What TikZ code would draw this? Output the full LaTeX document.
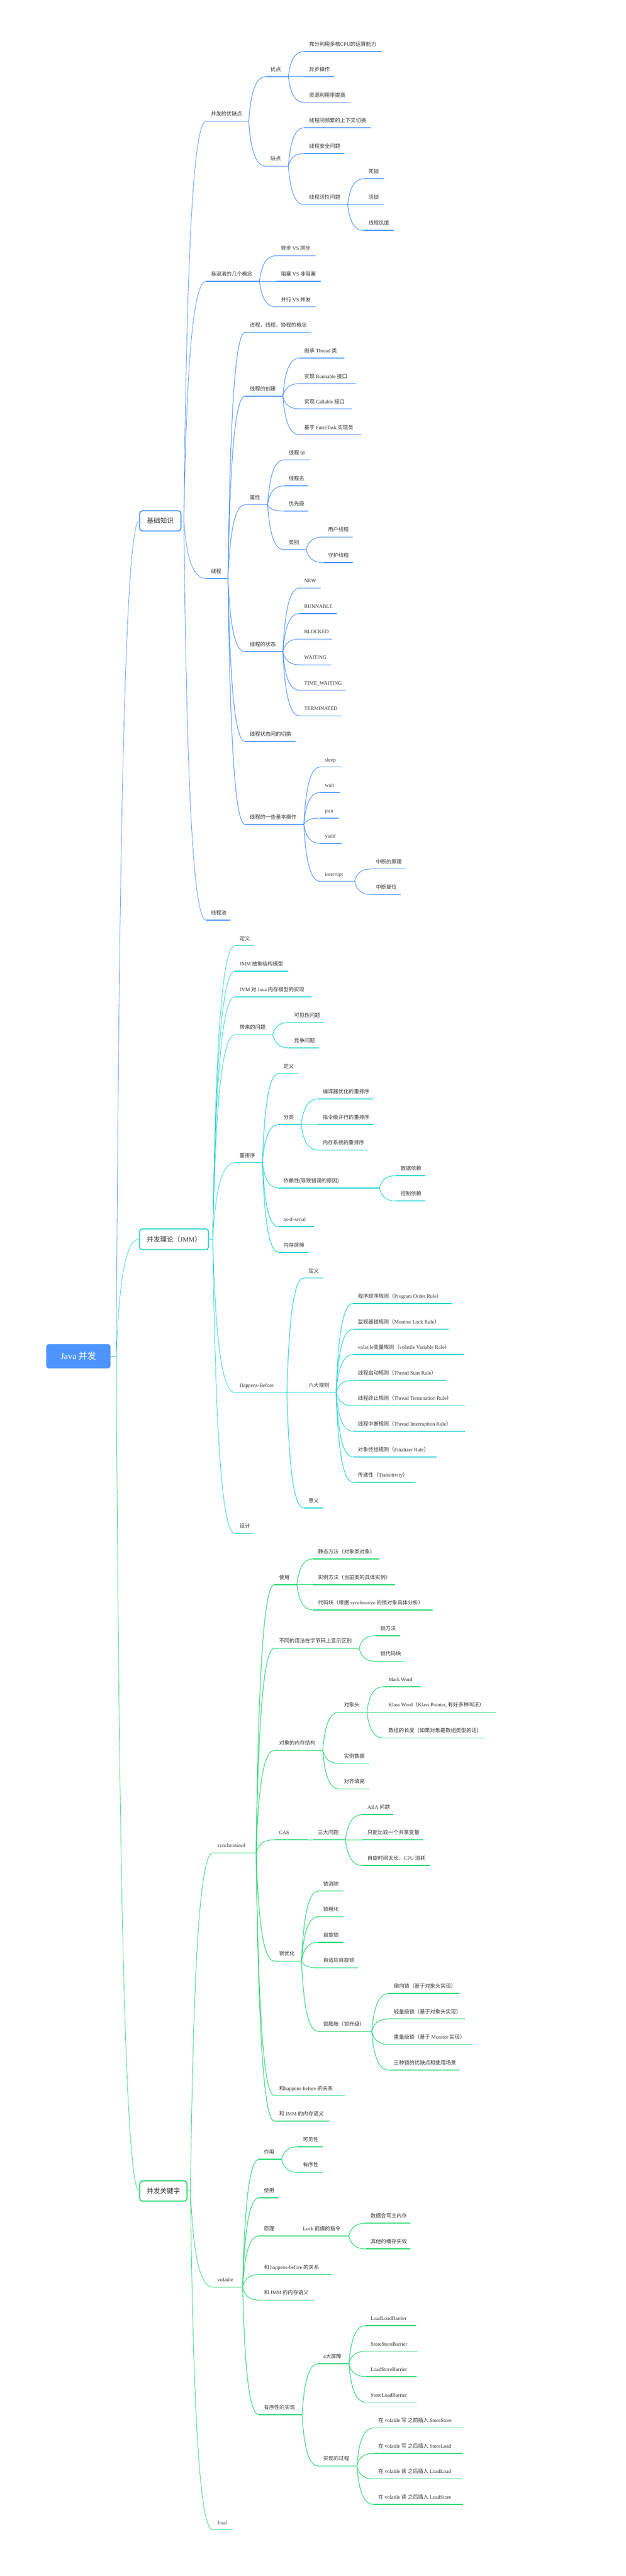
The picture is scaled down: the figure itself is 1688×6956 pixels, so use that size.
\documentclass[tikz,border=0pt]{standalone}
\usepackage{fontspec}
\setmainfont{Noto Sans CJK SC}
\newfontfamily\lfont{Liberation Serif}
\usetikzlibrary{calc}
\definecolor{cb}{RGB}{77,148,255}
\definecolor{cc}{RGB}{32,211,211}
\definecolor{cg}{RGB}{34,214,110}
\definecolor{tx}{RGB}{51,51,51}
\newcommand\lat[1]{{\lfont #1}}
\tikzset{
 conn/.style={to path={let \p1=(\tikztostart),\p2=(\tikztotarget) in .. controls ({\x1+0.1*(\x2-\x1)},{\y1+0.5*(\y2-\y1)}) and ({\x1+0.3*(\x2-\x1)},\y2) .. (\tikztotarget)}},
 topic/.style={inner xsep=13pt, inner ysep=0pt, outer sep=0pt, text height=11pt, text depth=14.7pt, font=\fontsize{14}{16}\selectfont, text=tx, anchor=south west},
 uline/.style={line width=2pt},
 link/.style={line width=1.5pt},
 lonelink/.style={line width=1.2pt},
 rootlink/.style={line width=1.1pt},
 lbox/.style={rounded corners=8pt, line width=2.8pt, fill=white, inner sep=0pt, font=\fontsize{18}{20}\selectfont, text=tx},
 rootbox/.style={rounded corners=8pt, fill=cb, inner sep=0pt, font=\fontsize{24}{26}\selectfont, text=white, minimum width=173.7pt, minimum height=65.5pt}
}
\newcommand\tp[6]{%
 \node[topic] (#1) at (#3,#4) {\makebox[\dimexpr #5pt-#3pt-26pt\relax][l]{#6}};
 \draw[uline,#2] (#1.south west) -- (#1.south east);}
\newcommand\lk[3]{\draw[link,#1] (#2.south east) to[conn] (#3.south west);}
\newcommand\lkj[3]{\draw[lonelink,#1] (#2) to[conn] (#3.south west);}
\begin{document}
\begin{tikzpicture}[x=1pt,y=-1pt]
\useasboundingbox (0,0) rectangle (1688,6956);
\fill[white] (0,0) rectangle (1688,6956);

% ================= blue: 基础知识 =================
\tp{a1}{cb}{556}{327.5}{671}{并发的优缺点}
\tp{a11}{cb}{717}{207}{778}{优点}
\tp{a111}{cb}{821}{139}{1029}{充分利用多核\lat{CPU}的运算能力}
\tp{a112}{cb}{821}{207}{902}{异步操作}
\tp{a113}{cb}{821}{276.5}{944}{资源利用率提高}
\tp{a12}{cb}{717}{448.6}{778}{缺点}
\tp{a121}{cb}{821}{345}{1000}{线程间频繁的上下文切换}
\tp{a122}{cb}{821}{414.6}{930}{线程安全问题}
\tp{a123}{cb}{821}{552.7}{938}{线程活性问题}
\tp{a1231}{cb}{981}{483}{1036}{死锁}
\tp{a1232}{cb}{981}{552.7}{1036}{活锁}
\tp{a1233}{cb}{981}{622}{1063}{线程饥饿}
\tp{a2}{cb}{556}{759.8}{700}{易混淆的几个概念}
\tp{a21}{cb}{745}{690.6}{851}{异步 \lat{VS} 同步}
\tp{a22}{cb}{745}{759.8}{865}{阻塞 \lat{VS} 非阻塞}
\tp{a23}{cb}{745}{828.6}{851}{并行 \lat{VS} 并发}
\tp{a3}{cb}{556}{1562}{615}{线程}
\tp{a31}{cb}{661}{897.9}{838.5}{进程，线程，协程的概念}
\tp{a32}{cb}{661}{1070}{763}{线程的创建}
\tp{a321}{cb}{808}{966.7}{929}{继承 \lat{Thread} 类}
\tp{a322}{cb}{808}{1036}{960}{实现 \lat{Runnable} 接口}
\tp{a323}{cb}{808}{1104}{949}{实现 \lat{Callable} 接口}
\tp{a324}{cb}{808}{1173.6}{975}{基于 \lat{FutreTask} 实现类}
\tp{a33}{cb}{661}{1363}{722}{属性}
\tp{a331}{cb}{766}{1242}{836}{线程 \lat{Id}}
\tp{a332}{cb}{766}{1312}{832}{线程名}
\tp{a333}{cb}{766}{1380}{832}{优先级}
\tp{a334}{cb}{766}{1484}{826}{类别}
\tp{a3341}{cb}{872}{1450}{952}{用户线程}
\tp{a3342}{cb}{872}{1519}{952}{守护线程}
\tp{a34}{cb}{661}{1759.7}{763}{线程的状态}
\tp{a341}{cb}{808}{1588}{865}{\lat{NEW}}
\tp{a342}{cb}{808}{1657}{908.6}{\lat{RUNNABLE}}
\tp{a343}{cb}{808}{1725.7}{896}{\lat{BLOCKED}}
\tp{a344}{cb}{808}{1795}{894}{\lat{WAITING}}
\tp{a345}{cb}{808}{1863.7}{934}{\lat{TIME\_WAITING}}
\tp{a346}{cb}{808}{1932.9}{922}{\lat{TERMINATED}}
\tp{a35}{cb}{661}{2001.7}{797}{线程状态间的切换}
\tp{a36}{cb}{661}{2226}{819.6}{线程的一些基本操作}
\tp{a361}{cb}{864}{2071}{923}{\lat{sleep}}
\tp{a362}{cb}{864}{2139.7}{916.6}{\lat{wait}}
\tp{a363}{cb}{864}{2209}{913.7}{\lat{join}}
\tp{a364}{cb}{864}{2277.4}{920.6}{\lat{yield}}
\tp{a365}{cb}{864}{2380}{956.8}{\lat{interrupt}}
\tp{a3651}{cb}{1001}{2346.6}{1094.6}{中断的原理}
\tp{a3652}{cb}{1001}{2415.4}{1081}{中断复位}
\tp{a4}{cb}{556}{2484.7}{621.5}{线程池}

\foreach \c in {a111,a112,a113} {\lk{cb}{a11}{\c}}
\foreach \c in {a121,a122,a123} {\lk{cb}{a12}{\c}}
\foreach \c in {a1231,a1232,a1233} {\lk{cb}{a123}{\c}}
\foreach \c in {a11,a12} {\lk{cb}{a1}{\c}}
\foreach \c in {a21,a22,a23} {\lk{cb}{a2}{\c}}
\foreach \c in {a31,a32,a33,a34,a35,a36} {\lk{cb}{a3}{\c}}
\foreach \c in {a321,a322,a323,a324} {\lk{cb}{a32}{\c}}
\foreach \c in {a331,a332,a333,a334} {\lk{cb}{a33}{\c}}
\foreach \c in {a3341,a3342} {\lk{cb}{a334}{\c}}
\foreach \c in {a341,a342,a343,a344,a345,a346} {\lk{cb}{a34}{\c}}
\foreach \c in {a361,a362,a363,a364,a365} {\lk{cb}{a36}{\c}}
\foreach \c in {a3651,a3652} {\lk{cb}{a365}{\c}}

% ================= cyan: 并发理论 =================
\tp{b1}{cc}{633.5}{2553.7}{686}{定义}
\tp{b2}{cc}{633.5}{2622.5}{778}{\lat{JMM} 抽象结构模型}
\tp{b3}{cc}{633.5}{2691.7}{840}{\lat{JVM} 对 \lat{Java} 内存模型的实现}
\tp{b4}{cc}{633.5}{2794}{736}{带来的问题}
\tp{b41}{cc}{780.6}{2761}{874.6}{可见性问题}
\tp{b42}{cc}{780.6}{2829.6}{861}{竞争问题}
\tp{b5}{cc}{633.5}{3139.5}{708}{重排序}
\tp{b51}{cc}{752}{2898.8}{805}{定义}
\tp{b52}{cc}{752}{3036.8}{812.6}{分类}
\tp{b521}{cc}{857.7}{2967.6}{1007.7}{编译器优化的重排序}
\tp{b522}{cc}{857.7}{3036.8}{1007.7}{指令级并行的重排序}
\tp{b523}{cc}{857.7}{3105.5}{993}{内存系统的重排序}
\tp{b53}{cc}{752}{3208}{1023.7}{依赖性(导致错误的原因)}
\tp{b531}{cc}{1068}{3174.7}{1147.7}{数据依赖}
\tp{b532}{cc}{1068}{3243}{1147.7}{控制依赖}
\tp{b54}{cc}{752}{3312.5}{847}{\lat{as-if-serial}}
\tp{b55}{cc}{752}{3381.7}{832.5}{内存屏障}
\tp{b6}{cc}{633.5}{3760}{774}{\lat{Happens-Before}}
\tp{b61}{cc}{819.5}{3451}{872}{定义}
\tp{b62}{cc}{819.5}{3760}{906.7}{八大规则}
\tp{b621}{cc}{952.6}{3519.6}{1218}{程序顺序规则（\lat{Program Order Rule}）}
\tp{b622}{cc}{952.6}{3589}{1211}{监视器锁规则（\lat{Monitor Lock Rule}）}
\tp{b623}{cc}{952.6}{3657.6}{1250.8}{\lat{volatile}变量规则（\lat{volatile Variable Rule}）}
\tp{b624}{cc}{952.6}{3727}{1205}{线程启动规则（\lat{Thread Start Rule}）}
\tp{b625}{cc}{952.6}{3795.8}{1254.6}{线程终止规则（\lat{Thread Termination Rule}）}
\tp{b626}{cc}{952.6}{3864.7}{1254.6}{线程中断规则（\lat{Thread Interruption Rule}）}
\tp{b627}{cc}{952.6}{3934}{1178.7}{对象终结规则（\lat{Finalizer Rule}）}
\tp{b628}{cc}{952.6}{4002.5}{1121}{传递性（\lat{Transitivity}）}
\tp{b63}{cc}{819.5}{4071.7}{872}{意义}
\tp{b7}{cc}{633.5}{4140.7}{685}{设计}

\foreach \c in {b41,b42} {\lk{cc}{b4}{\c}}
\foreach \c in {b51,b52,b53,b54,b55} {\lk{cc}{b5}{\c}}
\foreach \c in {b521,b522,b523} {\lk{cc}{b52}{\c}}
\foreach \c in {b531,b532} {\lk{cc}{b53}{\c}}
\foreach \c in {b61,b62,b63} {\lk{cc}{b6}{\c}}
\foreach \c in {b621,b622,b623,b624,b625,b626,b627,b628} {\lk{cc}{b62}{\c}}

% ================= green: 并发关键字 =================
\tp{c1}{cg}{574}{5003}{691}{\lat{synchronized}}
\tp{c11}{cg}{740}{4279}{800.9}{使用}
\tp{c111}{cg}{845}{4209.5}{1023.7}{静态方法（对象类对象）}
\tp{c112}{cg}{845}{4279}{1065}{实例方法（当前类的具体实例）}
\tp{c113}{cg}{845}{4347.4}{1167}{代码块（根据 \lat{synchronize} 的锁对象具体分析）}
\tp{c12}{cg}{740}{4451}{969}{不同的用法在字节码上显示区别}
\tp{c121}{cg}{1013}{4416.8}{1079}{锁方法}
\tp{c122}{cg}{1013}{4485.7}{1094}{锁代码块}
\tp{c13}{cg}{740}{4726.5}{870.7}{对象的内存结构}
\tp{c131}{cg}{915}{4623.5}{989.8}{对象头}
\tp{c1311}{cg}{1035}{4554.6}{1135}{\lat{Mark Word}}
\tp{c1312}{cg}{1035}{4623.5}{1339}{\lat{Klass Word}（\lat{Klass Pointer,} 有好多种叫法）}
\tp{c1313}{cg}{1035}{4692.9}{1310}{数组的长度（如果对象是数组类型的话）}
\tp{c132}{cg}{915}{4761.7}{995.5}{实例数据}
\tp{c133}{cg}{915}{4830.6}{995.5}{对齐填充}
\tp{c14}{cg}{740}{4968}{830}{\lat{CAS}}
\tp{c141}{cg}{844.5}{4968}{932}{三大问题}
\tp{c1411}{cg}{978.5}{4900}{1062}{\lat{ABA} 问题}
\tp{c1412}{cg}{978.5}{4968}{1141.8}{只能比较一个共享变量}
\tp{c1413}{cg}{978.5}{5037.6}{1160.6}{自旋时间太长，\lat{CPU} 消耗}
\tp{c15}{cg}{740}{5295.6}{813.4}{锁优化}
\tp{c151}{cg}{859}{5106.6}{926}{锁消除}
\tp{c152}{cg}{859}{5175.6}{926}{锁粗化}
\tp{c153}{cg}{859}{5244.6}{926}{自旋锁}
\tp{c154}{cg}{859}{5313.7}{967}{自适应自旋锁}
\tp{c155}{cg}{859}{5485.8}{1002.8}{锁膨胀（锁升级）}
\tp{c1551}{cg}{1049.5}{5382.7}{1240}{偏向锁（基于对象头实现）}
\tp{c1552}{cg}{1049.5}{5451.7}{1254.5}{轻量级锁（基于对象头实现）}
\tp{c1553}{cg}{1049.5}{5520.7}{1275}{重量级锁（基于 \lat{Monitor} 实现）}
\tp{c1554}{cg}{1049.5}{5589.8}{1240}{三种锁的优缺点和使用场景}
\tp{c16}{cg}{740}{5659}{931}{和\lat{happens-before} 的关系}
\tp{c17}{cg}{740}{5727.5}{889.3}{和 \lat{JMM} 的内存语义}
\tp{c2}{cg}{574}{6175.8}{654.6}{\lat{volatile}}
\tp{c21}{cg}{699}{5830.7}{759.6}{作用}
\tp{c211}{cg}{804}{5797}{870.5}{可见性}
\tp{c212}{cg}{804}{5866}{870.5}{有序性}
\tp{c22}{cg}{699}{5934.6}{751}{使用}
\tp{c23}{cg}{699}{6037.7}{790}{原理}
\tp{c231}{cg}{804}{6037.7}{941.3}{\lat{Lock} 前缀的指令}
\tp{c2311}{cg}{987}{6003.2}{1107.7}{数据会写主内存}
\tp{c2312}{cg}{987}{6072.7}{1107.7}{其他的缓存失效}
\tp{c24}{cg}{699}{6141.7}{895.3}{和 \lat{happens-before} 的关系}
\tp{c25}{cg}{699}{6210.7}{848.3}{和 \lat{JMM} 的内存语义}
\tp{c26}{cg}{699}{6520.7}{815}{有序性的实现}
\tp{c261}{cg}{859}{6382.6}{941.3}{\lat{4}大屏障}
\tp{c2611}{cg}{987}{6279.7}{1122}{\lat{LoadLoadBarrier}}
\tp{c2612}{cg}{987}{6349}{1126.5}{\lat{StoreStoreBarrier}}
\tp{c2613}{cg}{987}{6417.4}{1124}{\lat{LoadStoreBarrier}}
\tp{c2614}{cg}{987}{6486.7}{1124}{\lat{StoreLoadBarrier}}
\tp{c262}{cg}{859}{6658.7}{962.7}{实现的过程}
\tp{c2621}{cg}{1007.7}{6556}{1252}{在 \lat{volatile} 写 之前插入 \lat{StoreStore}}
\tp{c2622}{cg}{1007.7}{6624.7}{1249.4}{在 \lat{volatile} 写 之后插入 \lat{StoreLoad}}
\tp{c2623}{cg}{1007.7}{6693.6}{1246}{在 \lat{volatile} 读 之后插入 \lat{LoadLoad}}
\tp{c2624}{cg}{1007.7}{6762.4}{1249.4}{在 \lat{volatile} 读 之后插入 \lat{LoadStore}}
\tp{c3}{cg}{574}{6831.6}{627.3}{\lat{final}}

\foreach \c in {c11,c12,c13,c14,c15,c16,c17} {\lk{cg}{c1}{\c}}
\foreach \c in {c111,c112,c113} {\lk{cg}{c11}{\c}}
\foreach \c in {c121,c122} {\lk{cg}{c12}{\c}}
\foreach \c in {c131,c132,c133} {\lk{cg}{c13}{\c}}
\foreach \c in {c1311,c1312,c1313} {\lk{cg}{c131}{\c}}
\lk{cg}{c14}{c141}
\foreach \c in {c1411,c1412,c1413} {\lk{cg}{c141}{\c}}
\foreach \c in {c151,c152,c153,c154,c155} {\lk{cg}{c15}{\c}}
\foreach \c in {c1551,c1552,c1553,c1554} {\lk{cg}{c155}{\c}}
\foreach \c in {c21,c22,c23,c24,c25,c26} {\lk{cg}{c2}{\c}}
\foreach \c in {c211,c212} {\lk{cg}{c21}{\c}}
\lk{cg}{c23}{c231}
\foreach \c in {c2311,c2312} {\lk{cg}{c231}{\c}}
\foreach \c in {c261,c262} {\lk{cg}{c26}{\c}}
\foreach \c in {c2611,c2612,c2613,c2614} {\lk{cg}{c261}{\c}}
\foreach \c in {c2621,c2622,c2623,c2624} {\lk{cg}{c262}{\c}}

% ================= level-1 boxes and root =================
\coordinate (rj) at (313.7,3662.2);
\coordinate (j1) at (496,1406.5);
\coordinate (j2) at (574,3346.4);
\coordinate (j3) at (513.8,5916.5);
\node[rootbox] (root) at (211.5,3662.2) {\lat{Java} 并发};
\node[lbox,draw=cb,minimum width=111pt,minimum height=54.5pt] (k1) at (432.5,1406.5) {基础知识};
\node[lbox,draw=cc,minimum width=186pt,minimum height=56pt] (k2) at (469.4,3346.4) {并发理论（\lat{JMM}）};
\node[lbox,draw=cg,minimum width=127.2pt,minimum height=54.6pt] (k3) at (440.9,5916.5) {并发关键字};

\draw[rootlink,cb] (root.east) -- (rj) to[conn] (k1.west);
\draw[rootlink,cc] (root.east) -- (rj) to[conn] (k2.west);
\draw[rootlink,cg] (root.east) -- (rj) to[conn] (k3.west);

\draw[lonelink,cb] (k1.east) -- (j1);
\draw[lonelink,cc] (k2.east) -- (j2);
\draw[lonelink,cg] (k3.east) -- (j3);
\foreach \c in {a1,a2,a3,a4} {\lkj{cb}{j1}{\c}}
\foreach \c in {b1,b2,b3,b4,b5,b6,b7} {\lkj{cc}{j2}{\c}}
\foreach \c in {c1,c2,c3} {\lkj{cg}{j3}{\c}}
\end{tikzpicture}
\end{document}
